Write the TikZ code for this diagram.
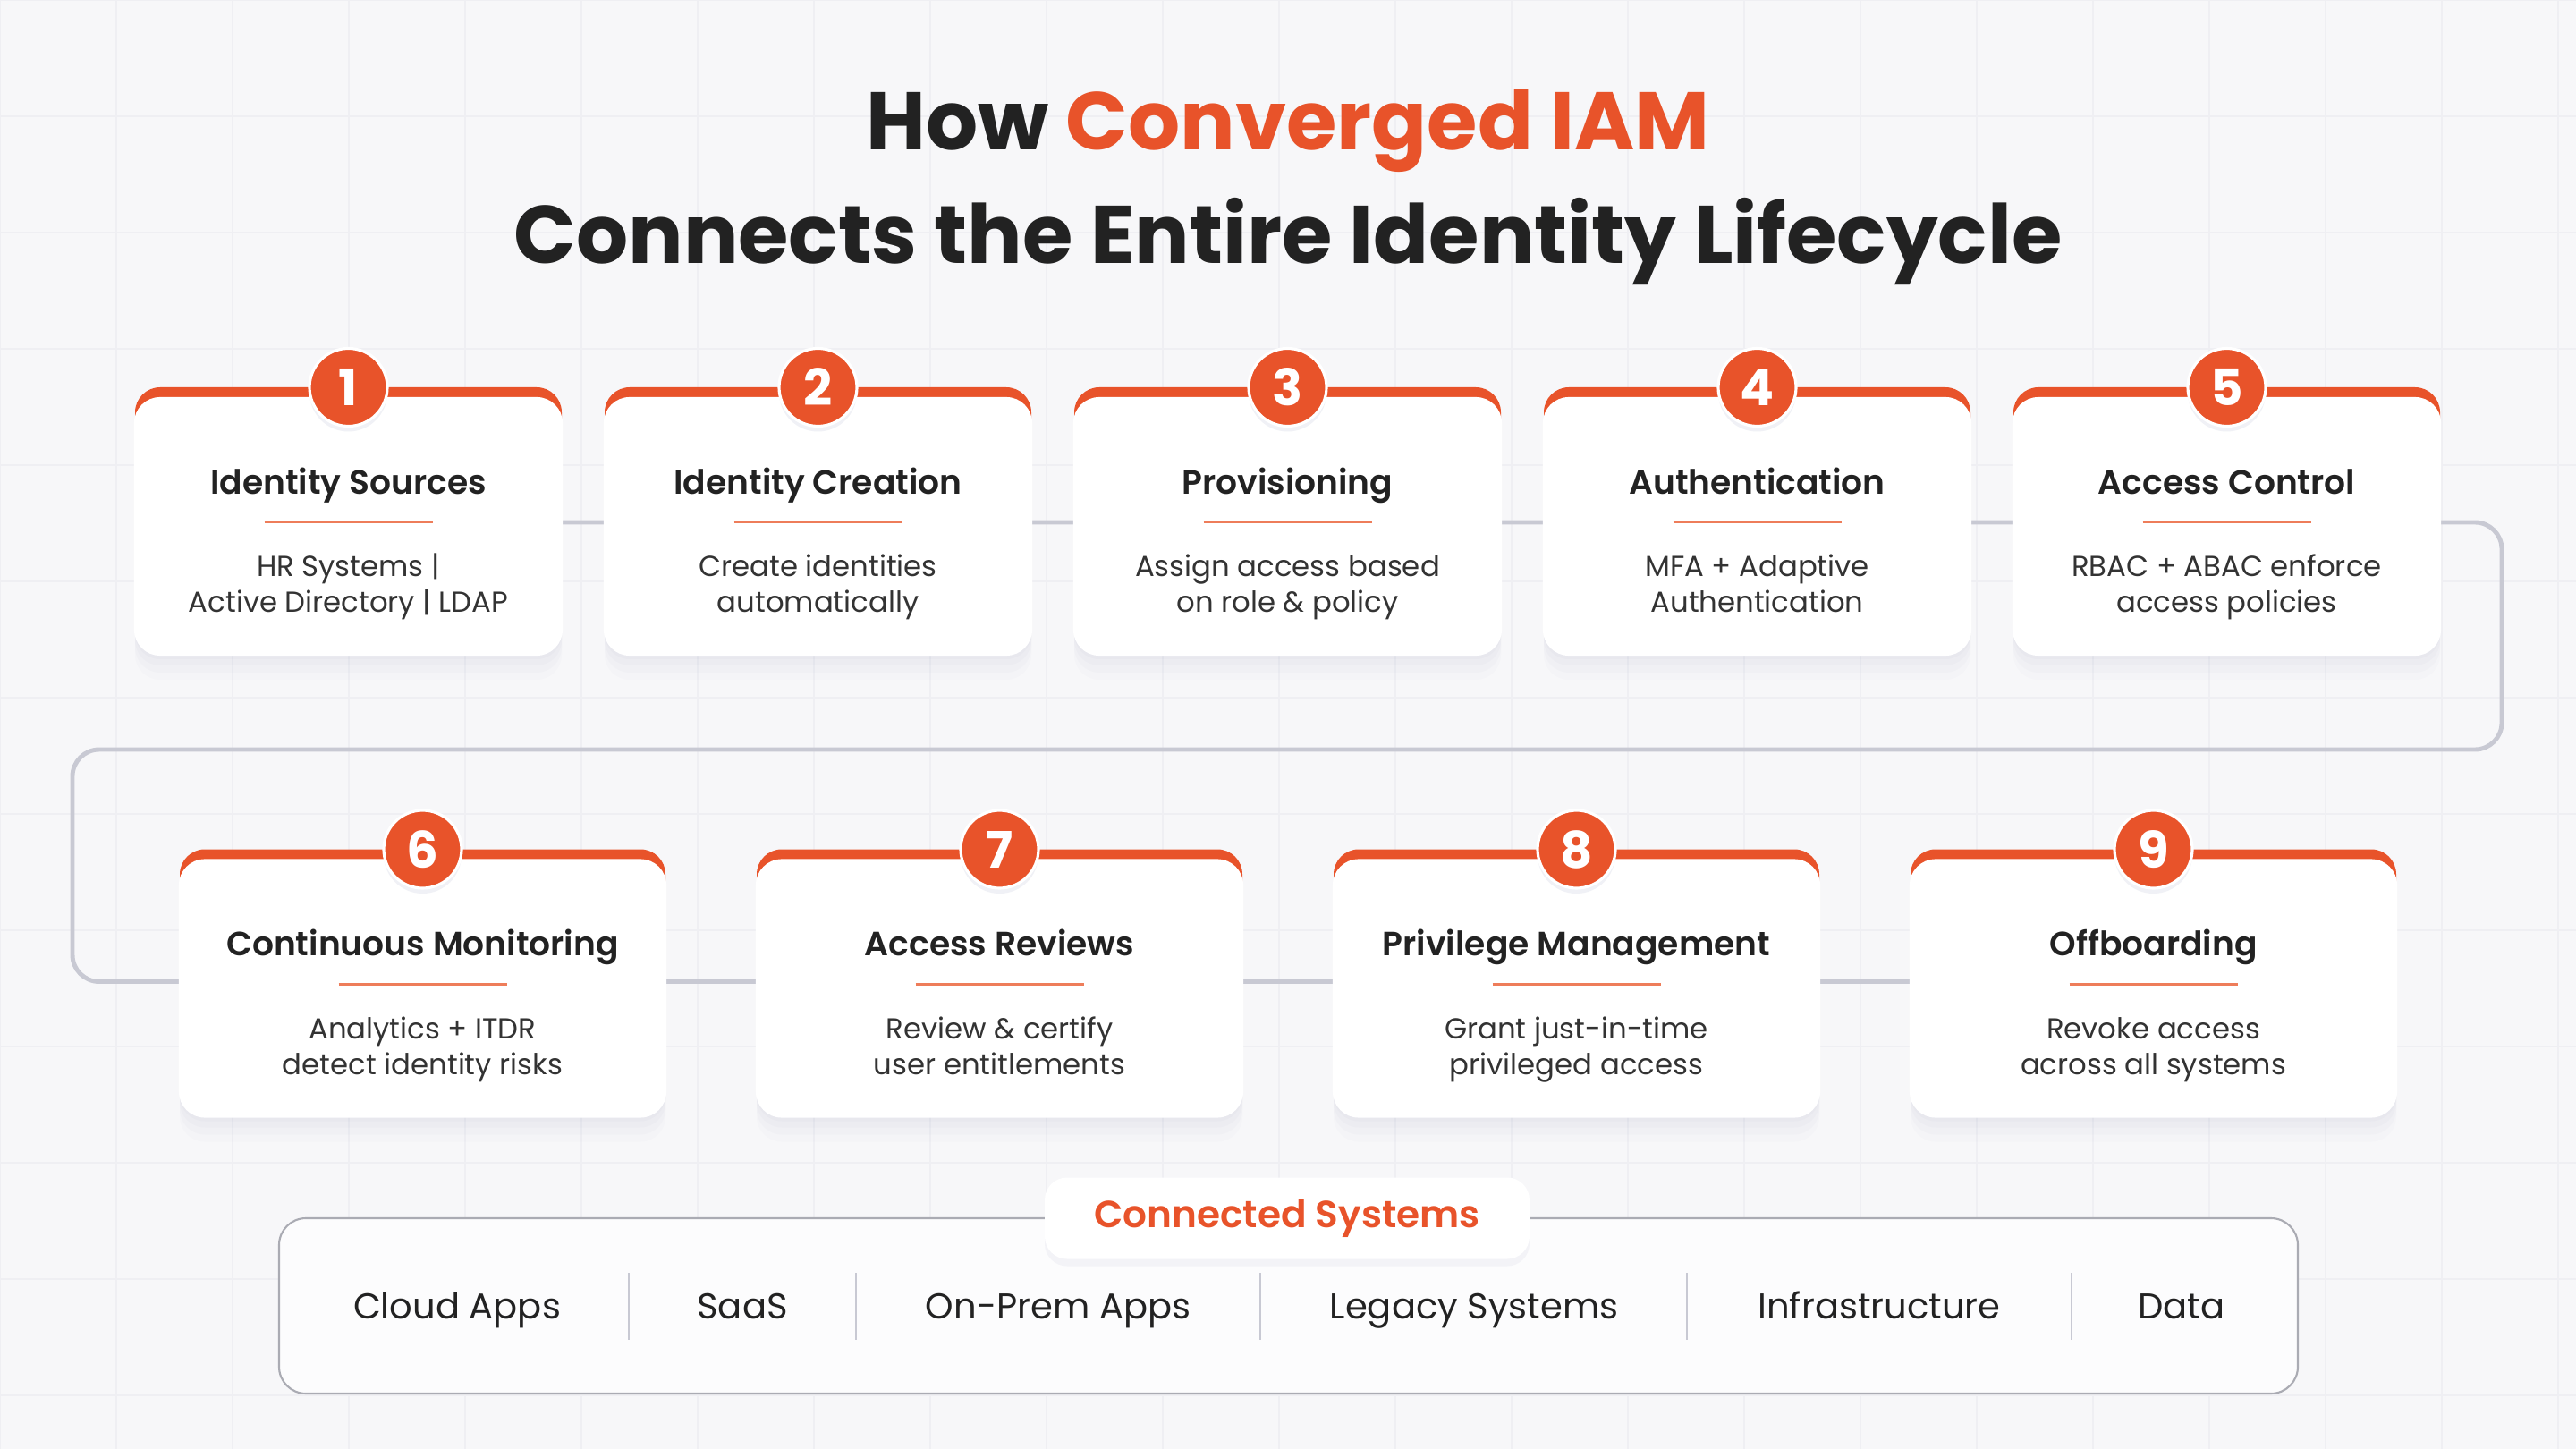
\documentclass[tikz,border=0pt]{standalone}
\usepackage{fontspec}
\setmainfont{Poppins}
\IfFontExistsTF{Poppins SemiBold}{\newfontfamily\semib{Poppins SemiBold}}{\newcommand\semib{\bfseries}}
\usepackage{xcolor}
\usetikzlibrary{positioning, backgrounds, calc}

\definecolor{accent}{HTML}{E8532A}
\definecolor{accentlt}{HTML}{EE7D5A}
\definecolor{ink}{HTML}{222222}
\definecolor{inksoft}{HTML}{333333}
\definecolor{flowgray}{HTML}{C8C9D3}
\definecolor{pagebg}{HTML}{F7F7F9}
\definecolor{gridc}{HTML}{EFEFF3}
\definecolor{shadowc}{HTML}{8A8FB5}

\begin{document}
\begin{tikzpicture}[
  every node/.style={font=\fontsize{9.2}{11.4}\selectfont, text=inksoft},
  card/.style={rectangle, rounded corners=0.28cm, fill=white, draw=white,
               line width=0.6pt, inner sep=0pt, outer sep=0pt,
               minimum width=4.77cm, minimum height=2.87cm,
               preaction={fill=shadowc, opacity=0.025, transform canvas={yshift=-0.28cm}},
               preaction={fill=shadowc, opacity=0.03, transform canvas={yshift=-0.2cm}},
               preaction={fill=shadowc, opacity=0.035, transform canvas={yshift=-0.12cm}},
               preaction={fill=shadowc, opacity=0.04, transform canvas={yshift=-0.05cm}},
               preaction={fill=accent, transform canvas={yshift=0.12cm}}},
  wide/.style={minimum width=5.43cm},
  badge/.style={circle, fill=accent, draw=white, line width=0.9pt,
                minimum size=0.87cm, inner sep=0pt, text=white,
                font=\bfseries\fontsize{16}{16}\selectfont,
                preaction={fill=shadowc, opacity=0.12, transform canvas={yshift=-0.06cm}}},
  ttl/.style={anchor=base, text=ink, font=\semib\fontsize{10.7}{12}\selectfont},
  dsc/.style={anchor=base, align=center},
  rule/.style={accentlt, line width=0.6pt},
  flow/.style={flowgray, line width=1.4pt, rounded corners=0.3cm},
  item/.style={anchor=base, text=ink, font=\fontsize{11.4}{13}\selectfont},
  sep/.style={flowgray, line width=0.6pt}
]
  \useasboundingbox (0,0) rectangle (28.8,-16.2);
  \begin{scope}[on background layer]
    \fill[pagebg] (0,0) rectangle (28.8,-16.2);
    \draw[gridc, line width=0.4pt] (0,-16.2) grid[step=1.3] (28.8,0);
  \end{scope}

  % title
  \node[anchor=base, text=ink, font=\bfseries\fontsize{26}{30}\selectfont] (head1)
        at (14.4,-1.68) {How \textcolor{accent}{Converged IAM}};
  \node[anchor=base, text=ink, font=\bfseries\fontsize{26}{30}\selectfont] (head2)
        at (14.4,-2.95) {Connects the Entire Identity Lifecycle};

  % lifecycle cards
  \node[card] (c1) at (3.895,-5.885) {};
  \node[card, right=0.48cm of c1] (c2) {};
  \node[card, right=0.48cm of c2] (c3) {};
  \node[card, right=0.48cm of c3] (c4) {};
  \node[card, right=0.48cm of c4] (c5) {};
  \node[card, wide] (c6) at (4.725,-11.05) {};
  \node[card, wide, right=1.02cm of c6] (c7) {};
  \node[card, wide, right=1.02cm of c7] (c8) {};
  \node[card, wide, right=1.02cm of c8] (c9) {};

  \foreach \n/\ttl/\dsc in {
      1/{Identity Sources}/{HR Systems |\\Active Directory | LDAP},
      2/{Identity Creation}/{Create identities\\automatically},
      3/{Provisioning}/{Assign access based\\on role \& policy},
      4/{Authentication}/{MFA + Adaptive\\Authentication},
      5/{Access Control}/{RBAC + ABAC enforce\\access policies},
      6/{Continuous Monitoring}/{Analytics + ITDR\\detect identity risks},
      7/{Access Reviews}/{Review \& certify\\user entitlements},
      8/{Privilege Management}/{Grant just-in-time\\privileged access},
      9/{Offboarding}/{Revoke access\\across all systems}} {
    \node[badge] (b\n) at ([yshift=0.12cm]c\n.north) {\n};
    \node[ttl] (t\n) at ([yshift=-1.07cm]c\n.north) {\ttl};
    \draw[rule] ([xshift=-0.94cm,yshift=-1.39cm]c\n.north)
          -- ([xshift=0.94cm,yshift=-1.39cm]c\n.north);
    \node[dsc] (d\n) at ([yshift=-2.40cm]c\n.north) {\dsc};
  }

  % snake connector behind the cards
  \coordinate (bendR) at (27.97,-8.38);
  \coordinate (bendL) at (0.81,-8.38);
  \begin{scope}[on background layer]
    \draw[flow] ([yshift=-1.39cm]c1.north) -| (bendR) -- (bendL)
          |- ([yshift=-1.36cm]c9.north);
  \end{scope}

  % connected systems
  \node[rectangle, rounded corners=0.3cm, draw=flowgray!85!black, line width=0.6pt,
        fill=white!60!pagebg, minimum width=22.57cm, minimum height=1.96cm]
        (sysbox) at (14.405,-14.60) {};
  \node[rectangle, rounded corners=0.25cm, fill=white, minimum width=5.42cm,
        minimum height=0.91cm, text=accent, font=\semib\fontsize{12}{14}\selectfont,
        preaction={fill=shadowc, opacity=0.08, transform canvas={yshift=-0.08cm}}]
        (syslbl) at (14.39,-13.62) {Connected Systems};
  \node[item] (cloud) at (5.11,-14.74) {Cloud Apps};
  \node[item] (saas)  at (8.30,-14.74) {SaaS};
  \node[item] (onprem) at (11.83,-14.74) {On-Prem Apps};
  \node[item] (legacy) at (16.48,-14.74) {Legacy Systems};
  \node[item] (infra) at (21.01,-14.74) {Infrastructure};
  \node[item] (data)  at (24.39,-14.74) {Data};
  \draw[sep] (7.03,-14.23) -- (7.03,-14.98);
  \draw[sep] (9.57,-14.23) -- (9.57,-14.98);
  \draw[sep] (14.09,-14.23) -- (14.09,-14.98);
  \draw[sep] (18.86,-14.23) -- (18.86,-14.98);
  \draw[sep] (23.16,-14.23) -- (23.16,-14.98);
\end{tikzpicture}
\end{document}
